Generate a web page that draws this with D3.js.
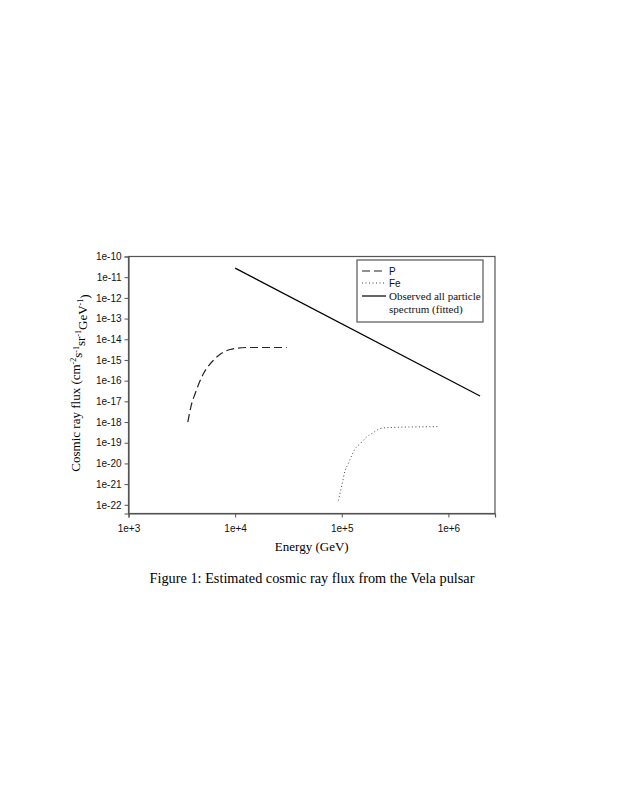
<!DOCTYPE html>
<html>
<head>
<meta charset="utf-8">
<script src="https://cdn.jsdelivr.net/npm/d3@7"></script>
<style>
  body { margin: 0; background: #fff; }
</style>
</head>
<body>
<div id="chart"></div>
<script>
// Data (energy in GeV, flux in cm^-2 s^-1 sr^-1 GeV^-1)
const energyP = [3600, 3850, 4220, 5050, 6270, 8970, 12900, 30500];
const fluxP = [1e-18, 5.6e-18, 2.4e-17, 2.2e-16, 9.8e-16, 3.2e-15, 4.0e-15, 4.0e-15];

const energyFe = [92900, 100000, 107400, 115300, 124200, 133400, 148600, 169000, 197700, 228600, 273500, 803500];
const fluxFe = [1.6e-22, 8.5e-22, 4.5e-21, 1.0e-20, 2.45e-20, 5.1e-20, 8.9e-20, 1.78e-19, 3.1e-19, 4.8e-19, 5.4e-19, 6.0e-19];

const energyObs = [10000, 1.98e6];
const fluxObs = [2.75e-11, 1.8e-17];

const xTicks = [1e3, 1e4, 1e5, 1e6];
const xTickLabels = ["1e+3", "1e+4", "1e+5", "1e+6"];
const yTicks = d3.range(-10, -23, -1).map(p => Math.pow(10, p));
const yTickLabels = d3.range(-10, -23, -1).map(p => "1e" + p);

const legendLabels = ["P", "Fe", "Observed all particle", "spectrum (fitted)"];

const width = 623, height = 806;
const plot = {left: 128.5, right: 495, top: 256.5, bottom: 513.5};

const svg = d3.select("#chart")
  .append("svg")
  .attr("width", width)
  .attr("height", height)
  .attr("viewBox", [0, 0, width, height]);

const xScale = d3.scaleLog()
  .domain([1e3, Math.pow(10, 6.437)])
  .range([plot.left, plot.right]);

const yScale = d3.scaleLog()
  .domain([Math.pow(10, -22.42), 1e-10])
  .range([plot.bottom, plot.top]);

const sans = "'Liberation Sans', Arial, sans-serif";
const serif = "'Liberation Serif', 'Times New Roman', serif";
const axisColor = "#555";

// frame
svg.append("rect")
  .attr("x", plot.left)
  .attr("y", plot.top)
  .attr("width", plot.right - plot.left)
  .attr("height", plot.bottom - plot.top)
  .attr("fill", "none")
  .attr("stroke", axisColor)
  .attr("stroke-width", 1.2);

// axes
const xAxis = d3.axisBottom(xScale)
  .tickValues(xTicks)
  .tickFormat((d, i) => xTickLabels[i])
  .tickSize(4)
  .tickPadding(7);

const xGroup = svg.append("g")
  .attr("transform", `translate(0,${plot.bottom})`)
  .call(xAxis);

const yAxis = d3.axisLeft(yScale)
  .tickValues(yTicks)
  .tickFormat((d, i) => yTickLabels[i])
  .tickSize(4)
  .tickPadding(3);

const yGroup = svg.append("g")
  .attr("transform", `translate(${plot.left},0)`)
  .call(yAxis);

[xGroup, yGroup].forEach(g => {
  g.select(".domain").attr("stroke", axisColor).attr("stroke-width", 1.2);
  g.selectAll(".tick line").attr("stroke", axisColor);
  g.selectAll(".tick text")
    .style("font-family", sans)
    .style("font-size", "10px")
    .attr("fill", "#111");
});

// series
const line = d3.line()
  .x(d => xScale(d[0]))
  .y(d => yScale(d[1]))
  .curve(d3.curveMonotoneX);

const series = [
  {x: energyP, y: fluxP, dash: "8,4", color: "#222", w: 1.2},
  {x: energyFe, y: fluxFe, dash: "1,2.5", color: "#444", w: 1},
  {x: energyObs, y: fluxObs, dash: null, color: "#000", w: 1.2}
];

series.forEach(s => {
  svg.append("path")
    .datum(d3.zip(s.x, s.y))
    .attr("d", line)
    .attr("fill", "none")
    .attr("stroke", s.color)
    .attr("stroke-width", s.w)
    .attr("stroke-dasharray", s.dash);
});

// legend
const legend = svg.append("g");
legend.append("rect")
  .attr("x", 357)
  .attr("y", 260)
  .attr("width", 126)
  .attr("height", 62)
  .attr("fill", "#fff")
  .attr("stroke", axisColor)
  .attr("stroke-width", 1.2);

const rows = [271, 283, 296];
series.forEach((s, i) => {
  legend.append("line")
    .attr("x1", 362).attr("x2", 386)
    .attr("y1", rows[i]).attr("y2", rows[i])
    .attr("stroke", s.color)
    .attr("stroke-width", s.w)
    .attr("stroke-dasharray", s.dash);
});

legend.selectAll("text.lab")
  .data(legendLabels)
  .join("text")
    .attr("class", "lab")
    .attr("x", 389)
    .attr("y", (d, i) => i < 3 ? rows[i] : 309)
    .attr("dy", "0.35em")
    .style("font-family", (d, i) => i < 2 ? sans : serif)
    .style("font-size", (d, i) => i < 2 ? "10px" : "11px")
    .attr("fill", "#111")
    .text(d => d);

// axis titles
svg.append("text")
  .attr("x", (plot.left + plot.right) / 2)
  .attr("y", 551)
  .attr("text-anchor", "middle")
  .style("font-family", serif)
  .style("font-size", "13px")
  .text("Energy (GeV)");

const yTitle = svg.append("text")
  .attr("transform", `translate(80,383) rotate(-90)`)
  .attr("text-anchor", "middle")
  .style("font-family", serif)
  .style("font-size", "13px");

const yParts = [["Cosmic ray flux (cm", false], ["-2", true], ["s", false], ["-1", true],
  ["sr", false], ["-1", true], ["GeV", false], ["-1", true], [")", false]];
let up = false;
yParts.forEach(([t, sup]) => {
  const ts = yTitle.append("tspan").text(t);
  if (sup && !up) { ts.attr("dy", "-0.45em").style("font-size", "8px"); up = true; }
  else if (sup) { ts.style("font-size", "8px"); }
  else if (up) { ts.attr("dy", "0.45em"); up = false; }
});

// caption
svg.append("text")
  .attr("x", 312)
  .attr("y", 583)
  .attr("text-anchor", "middle")
  .style("font-family", serif)
  .style("font-size", "14.3px")
  .text("Figure 1: Estimated cosmic ray flux from the Vela pulsar");
</script>
</body>
</html>
